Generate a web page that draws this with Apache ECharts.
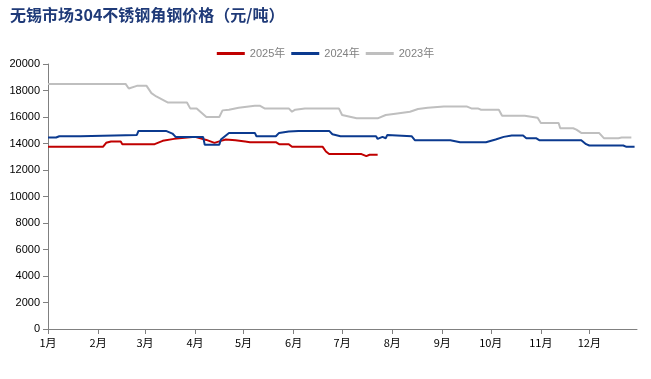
<!DOCTYPE html>
<html>
<head>
<meta charset="utf-8">
<script src="https://cdn.jsdelivr.net/npm/echarts@6/dist/echarts.min.js"></script>
<style>
html,body{margin:0;padding:0;background:#fff;}
#chart{width:651px;height:379px;}
</style>
</head>
<body>
<div id="chart"></div>
<script>
const titleText = '无锡市场304不锈钢角钢价格（元/吨）';
const seriesNames = ['2025年', '2024年', '2023年'];
const monthLabels = ['1月','2月','3月','4月','5月','6月','7月','8月','9月','10月','11月','12月'];
const monthStarts = ['01-01','02-01','03-01','04-01','05-01','06-01','07-01','08-01','09-01','10-01','11-01','12-01'];

const dates2025 = ['01-01','02-04','02-06','02-09','02-15','02-16','03-07','03-12','03-19','04-01','04-08','04-13','04-17','04-20','04-26','05-02','05-05','05-21','05-23','05-29','05-31','06-19','06-21','06-23','07-13','07-14','07-16','07-18','07-23'];
const values2025 = [13750,13750,14050,14150,14150,13950,13950,14200,14350,14500,14270,14050,14200,14300,14250,14150,14100,14100,13950,13950,13750,13750,13400,13200,13200,13050,13050,13150,13150];

const dates2024 = ['01-01','01-06','01-08','01-21','01-22','02-25','02-26','03-14','03-18','03-20','04-06','04-07','04-16','04-17','04-22','05-08','05-09','05-21','05-23','05-29','06-04','06-23','06-25','06-30','07-22','07-23','07-26','07-28','07-29','07-30','08-13','08-15','09-06','09-12','09-28','10-04','10-09','10-14','10-21','10-23','10-29','10-31','11-26','11-29','12-01','12-22','12-24','12-29'];
const values2024 = [14450,14450,14550,14550,14650,14650,14950,14950,14750,14500,14500,13900,13900,14300,14800,14800,14550,14550,14800,14900,14950,14950,14700,14550,14550,14350,14500,14400,14650,14550,14550,14250,14250,14100,14100,14300,14500,14600,14600,14400,14400,14250,14250,13950,13850,13850,13750,13750];

const dates2023 = ['01-01','02-18','02-20','02-25','03-02','03-05','03-08','03-15','03-27','03-29','04-02','04-08','04-16','04-18','04-22','04-28','05-08','05-11','05-14','05-29','05-31','06-02','06-08','06-29','07-01','07-10','07-23','07-28','08-03','08-12','08-17','08-23','09-02','09-16','09-19','09-23','09-25','10-06','10-08','10-22','10-23','10-30','11-01','11-12','11-13','11-21','11-23','11-26','12-07','12-10','12-19','12-21','12-27'];
const values2023 = [18500,18500,18150,18350,18350,17800,17550,17100,17100,16650,16650,16000,16000,16500,16550,16700,16850,16850,16650,16650,16400,16550,16650,16650,16150,15900,15900,16150,16250,16400,16600,16700,16800,16800,16650,16650,16550,16550,16100,16100,15950,15950,15550,15550,15150,15150,15050,14800,14800,14400,14400,14450,14450];

function toDay(s) {
  const p = s.split('-').map(Number);
  return (Date.UTC(2024, p[0] - 1, p[1]) - Date.UTC(2024, 0, 1)) / 86400000;
}
function pairs(dates, values) {
  return dates.map((d, i) => [toDay(d), values[i]]);
}
const tickDays = monthStarts.map(toDay);

const chart = echarts.init(document.getElementById('chart'), null, {renderer: 'canvas'});
const colors = ['#C00000', '#0B3A8F', '#BFBFBF'];
const allData = [pairs(dates2025, values2025), pairs(dates2024, values2024), pairs(dates2023, values2023)];

chart.setOption({
  animation: false,
  title: {
    text: titleText,
    left: 5,
    top: 2,
    textStyle: {fontFamily: 'Noto Sans CJK SC', fontSize: 16, fontWeight: 'bold', color: '#1F3A78'}
  },
  legend: {
    data: seriesNames.map((n, i) => ({name: n, icon: 'rect', itemStyle: {color: colors[i]}})),
    top: 43,
    left: 'center',
    itemWidth: 28,
    itemHeight: 3,
    itemGap: 6,
    textStyle: {fontFamily: 'Liberation Sans, Noto Sans CJK SC', fontSize: 11, color: '#808080'}
  },
  grid: {left: 48, right: 14, top: 64, bottom: 50, outerBoundsMode: 'none'},
  xAxis: {
    type: 'value',
    min: 0,
    max: 364.5,
    axisLine: {show: true, lineStyle: {color: '#808080', width: 1}},
    axisTick: {show: true, customValues: tickDays, length: 5, lineStyle: {color: '#808080'}},
    axisLabel: {
      customValues: tickDays,
      formatter: function (v) { const i = tickDays.indexOf(v); return i >= 0 ? monthLabels[i] : ''; },
      fontFamily: 'Noto Sans CJK SC', fontSize: 11, color: '#000', margin: 8
    },
    splitLine: {show: false}
  },
  yAxis: {
    type: 'value',
    min: 0,
    max: 20000,
    interval: 2000,
    axisLine: {show: true, lineStyle: {color: '#808080', width: 1}},
    axisTick: {show: true, length: 5, lineStyle: {color: '#808080'}},
    axisLabel: {
      formatter: function (v) { return String(v); },
      fontFamily: 'Liberation Sans', fontSize: 11, color: '#000', margin: 8
    },
    splitLine: {show: false}
  },
  series: seriesNames.map((n, i) => ({
    name: n,
    type: 'line',
    data: allData[i],
    symbol: 'none',
    showSymbol: false,
    lineStyle: {width: 2, color: colors[i]},
    itemStyle: {color: colors[i]},
    z: i === 2 ? 1 : (i === 1 ? 3 : 2)
  }))
});
</script>
</body>
</html>
